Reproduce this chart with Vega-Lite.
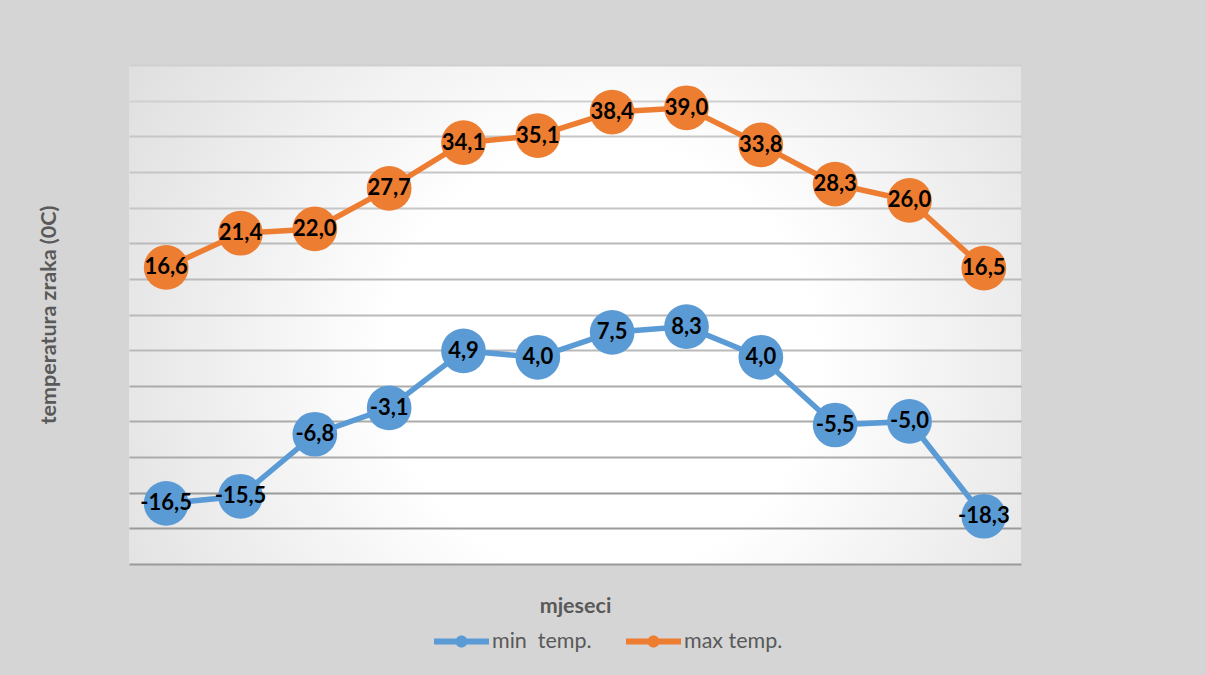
{
  "$schema": "https://vega.github.io/schema/vega-lite/v6.json",
  "width": 892,
  "height": 499,
  "autosize": {"type": "none"},
  "padding": {"left": 129, "top": 65, "right": 185, "bottom": 111},
  "background": "#d5d5d5",
  "config": {
    "locale": {"number": {"decimal": ",", "thousands": ".", "grouping": [3], "currency": ["", " €"], "minus": "-"}},
    "view": {
      "stroke": null,
      "fill": {
        "gradient": "radial",
        "x1": 0.53, "y1": 0.55, "r1": 0,
        "x2": 0.53, "y2": 0.55, "r2": 0.8,
        "stops": [
          {"offset": 0, "color": "#ffffff"},
          {"offset": 0.3, "color": "#ffffff"},
          {"offset": 1, "color": "#d0d0d0"}
        ]
      }
    },
    "font": "Lato"
  },
  "data": {
    "values": [
      {"month": 1, "series": "min\u00a0 temp.", "temp": -16.5},
      {"month": 2, "series": "min\u00a0 temp.", "temp": -15.5},
      {"month": 3, "series": "min\u00a0 temp.", "temp": -6.8},
      {"month": 4, "series": "min\u00a0 temp.", "temp": -3.1},
      {"month": 5, "series": "min\u00a0 temp.", "temp": 4.9},
      {"month": 6, "series": "min\u00a0 temp.", "temp": 4.0},
      {"month": 7, "series": "min\u00a0 temp.", "temp": 7.5},
      {"month": 8, "series": "min\u00a0 temp.", "temp": 8.3},
      {"month": 9, "series": "min\u00a0 temp.", "temp": 4.0},
      {"month": 10, "series": "min\u00a0 temp.", "temp": -5.5},
      {"month": 11, "series": "min\u00a0 temp.", "temp": -5.0},
      {"month": 12, "series": "min\u00a0 temp.", "temp": -18.3},
      {"month": 1, "series": "max temp.", "temp": 16.6},
      {"month": 2, "series": "max temp.", "temp": 21.4},
      {"month": 3, "series": "max temp.", "temp": 22.0},
      {"month": 4, "series": "max temp.", "temp": 27.7},
      {"month": 5, "series": "max temp.", "temp": 34.1},
      {"month": 6, "series": "max temp.", "temp": 35.1},
      {"month": 7, "series": "max temp.", "temp": 38.4},
      {"month": 8, "series": "max temp.", "temp": 39.0},
      {"month": 9, "series": "max temp.", "temp": 33.8},
      {"month": 10, "series": "max temp.", "temp": 28.3},
      {"month": 11, "series": "max temp.", "temp": 26.0},
      {"month": 12, "series": "max temp.", "temp": 16.5}
    ]
  },
  "encoding": {
    "x": {
      "field": "month",
      "type": "quantitative",
      "scale": {"domain": [0.5, 12.5], "nice": false, "zero": false},
      "axis": {
        "title": "mjeseci",
        "labels": false,
        "ticks": false,
        "domain": false,
        "grid": false,
        "titleFont": "Lato",
        "titleFontSize": 21.5,
        "titleFontWeight": "bold",
        "titleColor": "#595959",
        "titlePadding": 31
      }
    },
    "y": {
      "field": "temp",
      "type": "quantitative",
      "scale": {"domain": [-25, 45], "nice": false, "zero": false},
      "axis": {
        "title": "temperatura zraka (0C)",
        "values": [-25, -20, -15, -10, -5, 0, 5, 10, 15, 20, 25, 30, 35, 40, 45],
        "labels": false,
        "ticks": false,
        "domain": false,
        "grid": true,
        "gridWidth": 2,
        "gridColor": {
          "condition": [
            {"test": "datum.value >= 40", "value": "#d0d0d0"},
            {"test": "datum.value >= 25", "value": "#c6c6c6"},
            {"test": "datum.value >= 5", "value": "#bababa"},
            {"test": "datum.value >= -10", "value": "#ababab"}
          ],
          "value": "#9a9a9a"
        },
        "titleFont": "Lato",
        "titleFontSize": 21.5,
        "titleFontWeight": "bold",
        "titleColor": "#595959",
        "titlePadding": 69
      }
    },
    "color": {
      "field": "series",
      "type": "nominal",
      "scale": {"domain": ["min\u00a0 temp.", "max temp."], "range": ["#5B9BD5", "#ED7D31"]},
      "legend": {
        "orient": "none",
        "legendX": 305,
        "legendY": 549,
        "direction": "horizontal",
        "title": null,
        "padding": 0,
        "symbolType": "M-1,-0.11L1,-0.11L1,0.11L-1,0.11Z M0.22,0A0.22,0.22 0 1,1 -0.22,0A0.22,0.22 0 1,1 0.22,0Z",
        "symbolSize": 3025,
        "symbolStrokeWidth": 0,
        "symbolOpacity": 1,
        "labelFont": "Lato",
        "labelFontSize": 21.5,
        "labelColor": "#595959",
        "labelOffset": 3,
        "columnPadding": 34,
        "encode": {
          "symbols": {"update": {"fill": {"scale": "color", "field": "value"}, "opacity": {"value": 1}}}
        }
      }
    }
  },
  "layer": [
    {"mark": {"type": "line", "strokeWidth": 5.5}},
    {"mark": {"type": "point", "filled": true, "shape": "circle", "size": 2000, "opacity": 1}},
    {
      "mark": {"type": "text", "fontWeight": "bold", "fontSize": 22, "font": "Lato"},
      "encoding": {
        "text": {"field": "temp", "type": "quantitative", "format": ".1f"},
        "color": {"value": "#000000"}
      }
    }
  ]
}
